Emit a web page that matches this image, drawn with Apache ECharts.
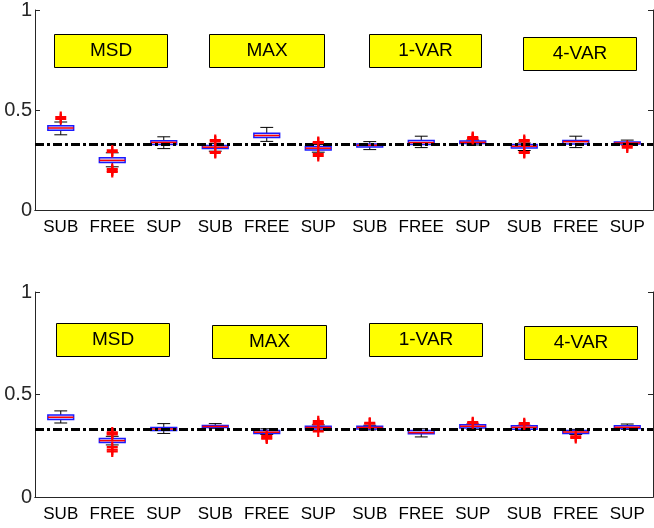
<!DOCTYPE html>
<html>
<head>
<meta charset="utf-8">
<script src="https://cdn.jsdelivr.net/npm/echarts@6/dist/echarts.min.js"></script>
<style>
html, body { margin: 0; padding: 0; background: #fff; }
#main { width: 654px; height: 528px; }
</style>
</head>
<body>
<div id="main"></div>
<script>
// categories: 3 conditions x 4 methods
var categories = ['SUB', 'FREE', 'SUP', 'SUB', 'FREE', 'SUP', 'SUB', 'FREE', 'SUP', 'SUB', 'FREE', 'SUP'];
var methods = ['MSD', 'MAX', '1-VAR', '4-VAR'];
var yTicks = [0, 0.5, 1];
var refLevel = 1 / 3;

// [low whisker, q1, median, q3, high whisker]
var topBoxes = [
  [0.376, 0.3985, 0.410, 0.4216, 0.440],
  [0.216, 0.237, 0.248, 0.261, 0.286],
  [0.307, 0.327, 0.338, 0.3466, 0.366],
  [0.294, 0.307, 0.314, 0.322, 0.333],
  [0.343, 0.363, 0.3725, 0.384, 0.413],
  [0.289, 0.300, 0.309, 0.317, 0.328],
  [0.302, 0.315, 0.3235, 0.330, 0.342],
  [0.312, 0.327, 0.337, 0.347, 0.369],
  [0.325, 0.332, 0.338, 0.345, 0.350],
  [0.2975, 0.310, 0.319, 0.327, 0.335],
  [0.312, 0.330, 0.342, 0.348, 0.369],
  [0.325, 0.330, 0.335, 0.340, 0.3495]
];
var topOutliers = [
  [0.455, 0.465],
  [0.298, 0.290, 0.205, 0.197, 0.190],
  [],
  [0.350, 0.343, 0.290, 0.285],
  [],
  [0.340, 0.335, 0.280, 0.270],
  [],
  [],
  [0.355, 0.360, 0.365],
  [0.350, 0.343, 0.290, 0.285],
  [],
  [0.320, 0.312]
];

var bottomBoxes = [
  [0.361, 0.378, 0.389, 0.400, 0.420],
  [0.254, 0.266, 0.275, 0.285, 0.296],
  [0.310, 0.324, 0.332, 0.339, 0.358],
  [0.335, 0.339, 0.344, 0.349, 0.358],
  [0.305, 0.310, 0.316, 0.324, 0.333],
  [0.325, 0.332, 0.339, 0.345, 0.352],
  [0.327, 0.332, 0.339, 0.345, 0.350],
  [0.293, 0.308, 0.314, 0.324, 0.333],
  [0.330, 0.337, 0.345, 0.352, 0.356],
  [0.325, 0.331, 0.340, 0.347, 0.350],
  [0.305, 0.310, 0.317, 0.324, 0.330],
  [0.330, 0.334, 0.340, 0.347, 0.356]
];
var bottomOutliers = [
  [],
  [0.305, 0.315, 0.310, 0.244, 0.231, 0.222],
  [],
  [],
  [0.298, 0.290, 0.285],
  [0.370, 0.360, 0.355, 0.320],
  [0.358, 0.362],
  [],
  [0.360, 0.365],
  [0.354, 0.360],
  [0.296, 0.288],
  []
];

var axisColor = '#262626';
var font = '"Liberation Sans", Arial, sans-serif';
var plusPath = 'path://M4,0H6V4H10V6H6V10H4V6H0V4H4Z';

function renderBox(params, api) {
  var x = api.value(0);
  var lo = api.coord([x, api.value(1)]);
  var q1 = api.coord([x, api.value(2)]);
  var med = api.coord([x, api.value(3)]);
  var q3 = api.coord([x, api.value(4)]);
  var hi = api.coord([x, api.value(5)]);
  var w = api.size([1, 0])[0] * 0.5;
  var cx = lo[0];
  var cw = w / 2;
  var wStyle = { stroke: '#000', lineWidth: 1 };
  return {
    type: 'group',
    children: [
      { type: 'line', shape: { x1: cx, y1: hi[1], x2: cx, y2: q3[1] }, style: wStyle },
      { type: 'line', shape: { x1: cx, y1: q1[1], x2: cx, y2: lo[1] }, style: wStyle },
      { type: 'line', shape: { x1: cx - cw / 2, y1: hi[1], x2: cx + cw / 2, y2: hi[1] }, style: wStyle },
      { type: 'line', shape: { x1: cx - cw / 2, y1: lo[1], x2: cx + cw / 2, y2: lo[1] }, style: wStyle },
      { type: 'rect', shape: { x: cx - w / 2, y: q3[1], width: w, height: q1[1] - q3[1] },
        style: { fill: 'rgba(140,140,255,0.3)', stroke: '#1a1aff', lineWidth: 1.5 } },
      { type: 'line', shape: { x1: cx - w / 2, y1: med[1], x2: cx + w / 2, y2: med[1] },
        style: { stroke: '#ff0000', lineWidth: 1.5 } }
    ]
  };
}

function boxData(boxes) {
  return boxes.map(function (b, i) { return [i].concat(b); });
}
function outlierData(outs) {
  var res = [];
  outs.forEach(function (list, i) {
    list.forEach(function (v) { res.push([i, v]); });
  });
  return res;
}

function xAxes(gi) {
  return [{
    type: 'category', gridIndex: gi, data: categories, position: 'bottom',
    boundaryGap: true,
    axisLine: { lineStyle: { color: axisColor, width: 1 } },
    axisTick: { inside: true, alignWithLabel: true, length: 5, lineStyle: { color: axisColor } },
    axisLabel: { color: '#000', fontSize: 17, fontFamily: font, margin: 9, interval: 0 },
    splitLine: { show: false }
  }, {
    type: 'category', gridIndex: gi, data: categories, position: 'top',
    boundaryGap: true,
    axisLine: { lineStyle: { color: axisColor, width: 1 } },
    axisTick: { inside: true, alignWithLabel: true, length: 5, lineStyle: { color: axisColor } },
    axisLabel: { show: false },
    splitLine: { show: false }
  }];
}
function yAxes(gi) {
  return [{
    type: 'value', gridIndex: gi, min: yTicks[0], max: yTicks[yTicks.length - 1], interval: 0.5,
    position: 'left',
    axisLine: { show: true, lineStyle: { color: axisColor, width: 1 } },
    axisTick: { show: true, inside: true, length: 5, lineStyle: { color: axisColor } },
    axisLabel: { color: '#262626', fontSize: 20, fontFamily: font, margin: 3 },
    splitLine: { show: false }
  }, {
    type: 'value', gridIndex: gi, min: yTicks[0], max: yTicks[yTicks.length - 1], interval: 0.5,
    position: 'right',
    axisLine: { show: true, lineStyle: { color: axisColor, width: 1 } },
    axisTick: { show: true, inside: true, length: 5, lineStyle: { color: axisColor } },
    axisLabel: { show: false },
    splitLine: { show: false }
  }];
}

function panelSeries(gi, boxes, outs) {
  return [{
    type: 'custom',
    xAxisIndex: gi * 2, yAxisIndex: gi * 2,
    renderItem: renderBox,
    encode: { x: 0, y: [1, 2, 3, 4, 5] },
    data: boxData(boxes),
    z: 2,
    silent: true,
    markLine: {
      silent: true,
      symbol: 'none',
      label: { show: false },
      lineStyle: { color: '#000', width: 3, type: [9, 3, 3, 3], opacity: 1 },
      data: [{ yAxis: refLevel }]
    }
  }, {
    type: 'scatter',
    xAxisIndex: gi * 2, yAxisIndex: gi * 2,
    symbol: plusPath,
    symbolSize: 11,
    itemStyle: { color: '#ff0000', opacity: 1 },
    data: outlierData(outs),
    z: 5,
    silent: true
  }];
}

// yellow method labels
var labelBoxes = [
  [54, 34, 113, 33], [209, 34, 115, 33], [369, 34, 112, 33], [523, 37, 113, 33],
  [56, 323, 113, 33], [212, 325, 114, 33], [369, 323, 113, 33], [524, 326, 113, 33]
];
var graphics = labelBoxes.map(function (b, i) {
  return {
    type: 'group', left: b[0], top: b[1],
    children: [
      { type: 'rect', shape: { x: 0, y: 0, width: b[2], height: b[3] },
        style: { fill: '#ffff00', stroke: '#000', lineWidth: 1 } },
      { type: 'text', x: b[2] / 2, y: b[3] / 2,
        style: { text: methods[i % 4], fill: '#000', font: '19px ' + font,
                 textAlign: 'center', textVerticalAlign: 'middle' } }
    ]
  };
});

var chart = echarts.init(document.getElementById('main'));
var option = {
  animation: false,
  backgroundColor: '#fff',
  grid: [
    { left: 35, top: 6, width: 618, height: 204 },
    { left: 35, top: 292, width: 618, height: 205 }
  ],
  xAxis: xAxes(0).concat(xAxes(1)),
  yAxis: yAxes(0).concat(yAxes(1)),
  series: panelSeries(0, topBoxes, topOutliers).concat(panelSeries(1, bottomBoxes, bottomOutliers)),
  graphic: graphics
};
chart.setOption(option);
</script>
</body>
</html>
